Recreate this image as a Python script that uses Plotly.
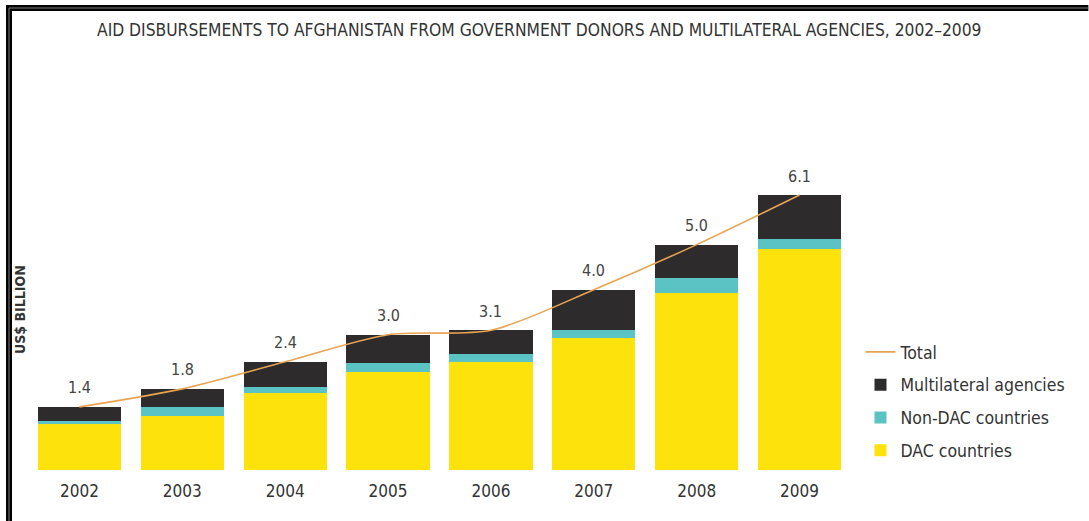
import plotly.graph_objects as go

# Aid disbursements to Afghanistan, US$ billion
years = ["2002", "2003", "2004", "2005", "2006", "2007", "2008", "2009"]
dac_countries = [1.01, 1.20, 1.70, 2.18, 2.40, 2.92, 3.92, 4.90]
non_dac_countries = [0.07, 0.19, 0.15, 0.19, 0.17, 0.18, 0.35, 0.22]
multilateral_agencies = [0.32, 0.41, 0.55, 0.63, 0.53, 0.90, 0.73, 0.98]
totals = [1.4, 1.8, 2.4, 3.0, 3.1, 4.0, 5.0, 6.1]

FONT = "DejaVu Sans Condensed, Liberation Sans Narrow, Roboto, sans-serif"
TEXT = "#333333"

L, R, T, B = 28, 237.5, 154, 51
PW, PH = 1089 - L - R, 521 - T - B


def px_x(p):
    return (p - L) / PW


def px_y(p):
    return (521 - B - p) / PH


fig = go.Figure()

fig.add_trace(go.Bar(x=years, y=dac_countries, name="DAC countries",
                     marker=dict(color="#FDE20C", line=dict(width=0)),
                     legendgroup="dac", legendrank=4))
fig.add_trace(go.Bar(x=years, y=non_dac_countries, name="Non-DAC countries",
                     marker=dict(color="#5CC3C4", line=dict(width=0)),
                     legendgroup="nondac", legendrank=3))
fig.add_trace(go.Bar(x=years, y=multilateral_agencies, name="Multilateral agencies",
                     marker=dict(color="#2D2B2C", line=dict(width=0)),
                     legendgroup="multi", legendrank=2))
fig.add_trace(go.Scatter(x=years, y=totals, name="Total", mode="lines",
                         line=dict(color="#E9A452", width=1.6, shape="spline", smoothing=0.8),
                         legendgroup="total", legendrank=1))

# total value labels above each bar (category index on the x axis)
for i, t in enumerate(totals):
    fig.add_annotation(x=i, y=t, xref="x", yref="y", text=f"{t:.1f}", showarrow=False,
                       xanchor="center", yanchor="middle", yshift=19,
                       font=dict(family=FONT, size=16, color="#444444"))

# vertical axis caption
fig.add_annotation(x=px_x(20), y=px_y(310), xref="paper", yref="paper",
                   text="<b>US$ BILLION</b>", textangle=-90, showarrow=False,
                   xanchor="center", yanchor="middle",
                   font=dict(family=FONT, size=14, color=TEXT))

# title
fig.add_annotation(x=px_x(540), y=px_y(30), xref="paper", yref="paper",
                   text="AID DISBURSEMENTS TO AFGHANISTAN FROM GOVERNMENT DONORS AND MULTILATERAL AGENCIES, 2002–2009",
                   showarrow=False, xanchor="center", yanchor="middle",
                   font=dict(family=FONT, size=17.3, color=TEXT))

# frame lines along the top and left edge
fig.add_shape(type="rect", xref="paper", yref="paper", x0=px_x(6), x1=px_x(1089),
              y0=px_y(11), y1=px_y(5),
              fillcolor="black", line=dict(width=0), layer="above")
fig.add_shape(type="rect", xref="paper", yref="paper", x0=px_x(6), x1=px_x(12),
              y0=px_y(521), y1=px_y(5),
              fillcolor="black", line=dict(width=0), layer="above")
fig.add_shape(type="line", xref="paper", yref="paper", x0=px_x(9), x1=px_x(1089),
              y0=px_y(8), y1=px_y(8), line=dict(color="#808080", width=1), layer="above")
fig.add_shape(type="line", xref="paper", yref="paper", x0=px_x(9), x1=px_x(9),
              y0=px_y(521), y1=px_y(8), line=dict(color="#808080", width=1), layer="above")

fig.update_layout(
    width=1089, height=521,
    margin=dict(l=L, r=R, t=T, b=B, autoexpand=False),
    barmode="stack", bargap=0.19,
    paper_bgcolor="white", plot_bgcolor="white",
    showlegend=True,
    legend=dict(x=px_x(861), xanchor="left", y=px_y(334), yanchor="top",
                traceorder="grouped", tracegroupgap=7,
                font=dict(family=FONT, size=17.5, color=TEXT),
                bgcolor="rgba(0,0,0,0)"),
    xaxis=dict(type="category", range=[-0.5, 7.5], showgrid=False, zeroline=False,
               showline=False, ticks="", ticklabelstandoff=9,
               tickfont=dict(family=FONT, size=17, color=TEXT)),
    yaxis=dict(range=[0, 7.01], visible=False),
    font=dict(family=FONT),
)

fig.write_html("out.html")
